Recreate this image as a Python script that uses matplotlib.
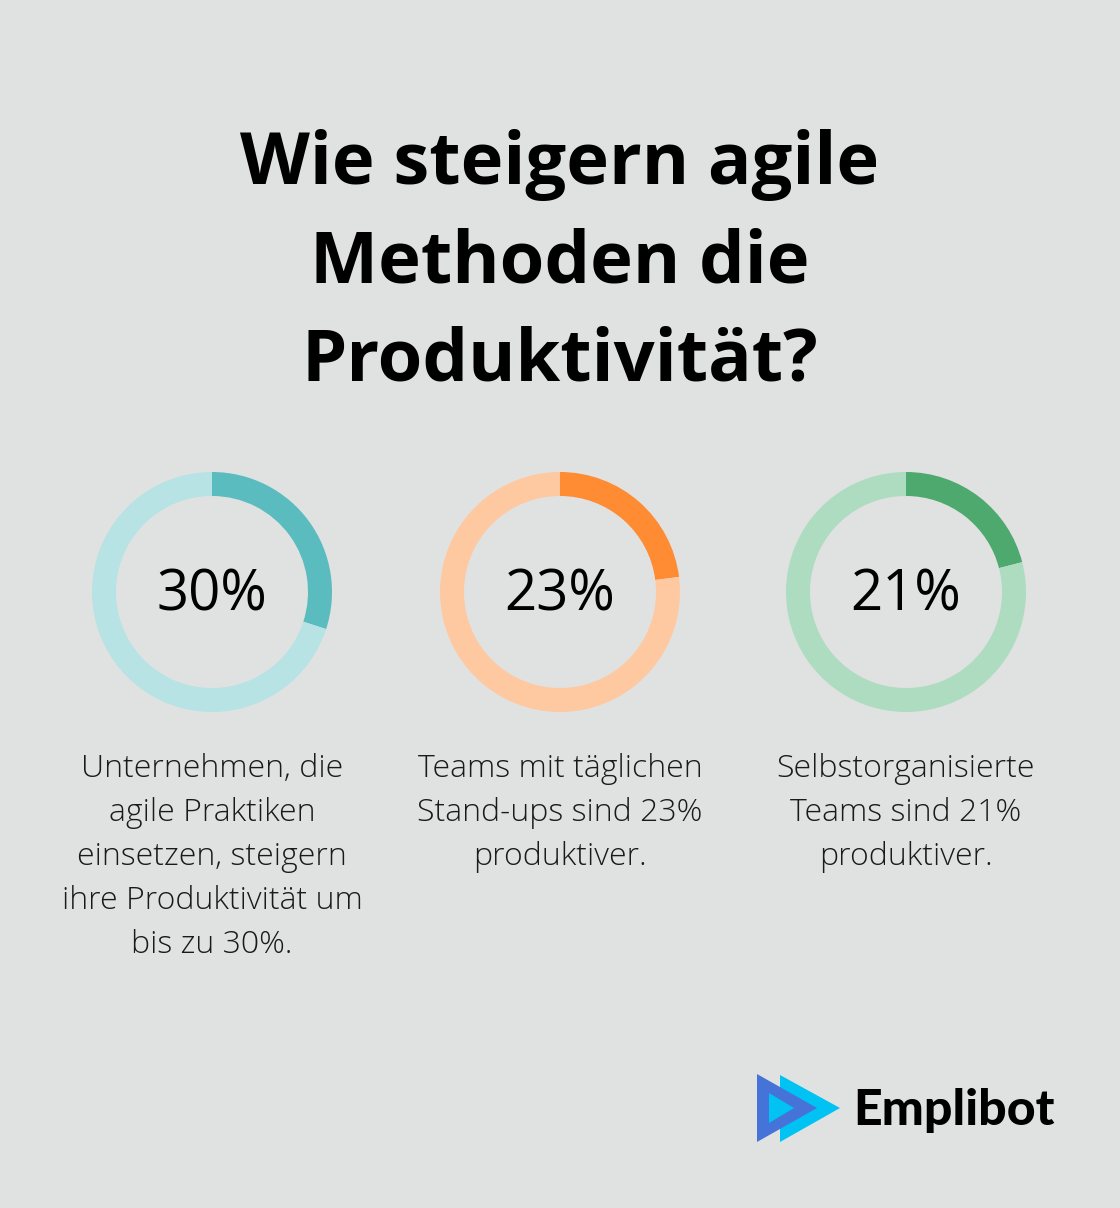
import matplotlib
matplotlib.use("Agg")
import matplotlib.pyplot as plt
from matplotlib.patches import Polygon

# ---- data ----
title_lines = ["Wie steigern agile", "Methoden die", "Produktivität?"]
percent_values = [30, 23, 21]
percent_labels = ["30%", "23%", "21%"]
descriptions = [
    ["Unternehmen, die", "agile Praktiken", "einsetzen, steigern", "ihre Produktivität um", "bis zu 30%."],
    ["Teams mit täglichen", "Stand-ups sind 23%", "produktiver."],
    ["Selbstorganisierte", "Teams sind 21%", "produktiver."],
]
dark_colors = ["#5bbcbf", "#ff8b33", "#4ea96e"]
light_colors = ["#b7e3e4", "#fec9a0", "#aedcc0"]
brand = "Emplibot"

W, H = 1120, 1208
BG = "#e0e2e1"
fig = plt.figure(figsize=(W / 100, H / 100), dpi=100, facecolor=BG)

def fx(x):
    return x / W

def fy(y):
    return 1 - y / H

FONT = "Open Sans"

# title
for i, line in enumerate(title_lines):
    fig.text(fx(560), fy(184 + i * 98.5), line, ha="center", va="baseline",
             fontsize=52, fontweight="bold", family=[FONT, "DejaVu Sans"], color="#000000")

centers_x = [212, 560, 906]
cy = 592
R = 120
for i, v in enumerate(percent_values):
    ax = fig.add_axes([fx(centers_x[i] - R), fy(cy + R), (2 * R) / W, (2 * R) / H])
    ax.set_facecolor("none")
    ax.pie([v, 100 - v], colors=[dark_colors[i], light_colors[i]], startangle=90,
           counterclock=False, radius=1.0, wedgeprops=dict(width=0.2, linewidth=0))
    ax.set_xlim(-1, 1)
    ax.set_ylim(-1, 1)
    ax.set_aspect("equal")
    ax.axis("off")
    fig.text(fx(centers_x[i]), fy(611), percent_labels[i], ha="center", va="baseline",
             fontsize=40.5, fontweight="normal", family=[FONT, "DejaVu Sans"], color="#000000")
    for j, line in enumerate(descriptions[i]):
        fig.text(fx(centers_x[i]), fy(777 + j * 44), line, ha="center", va="baseline",
                 fontsize=23, fontweight="light", family=[FONT, "DejaVu Sans"], color="#1a1a1a")

# logo
lax = fig.add_axes([0, 0, 1, 1])
lax.set_xlim(0, W)
lax.set_ylim(H, 0)
lax.axis("off")
lax.set_facecolor("none")
lax.add_patch(Polygon([(780, 1075), (780, 1142), (840, 1108)], closed=True, color="#00c2f3", lw=0))
lax.add_patch(Polygon([(757, 1074), (757, 1142), (817, 1108)], closed=True, color="#4673d8", lw=0))
lax.add_patch(Polygon([(769, 1093), (769, 1123), (794, 1108)], closed=True, color="#00c2f3", lw=0))
fig.text(fx(853), fy(1125), brand, ha="left", va="baseline", fontsize=36,
         fontweight="black", family=["Lato", "DejaVu Sans"], color="#000000")

fig.savefig("out.png", dpi=100, facecolor=BG)
